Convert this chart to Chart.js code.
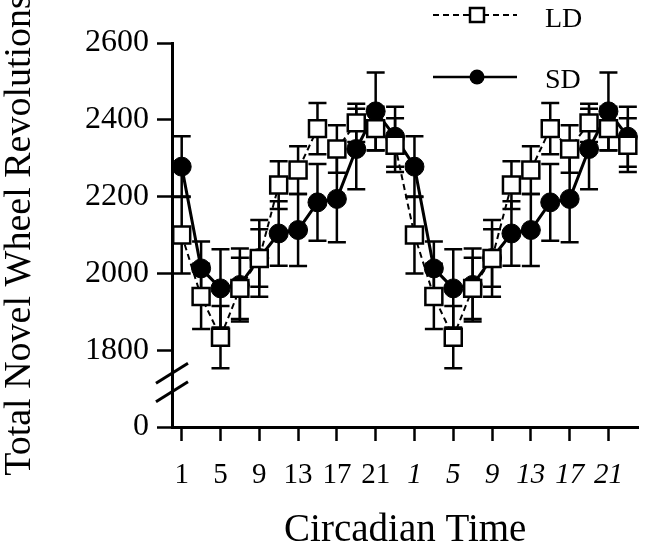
<!DOCTYPE html>
<html>
<head>
<meta charset="utf-8">
<script src="https://cdn.jsdelivr.net/npm/chart.js@4.4.0/dist/chart.umd.min.js"></script>
<style>
  html, body { margin: 0; padding: 0; background: #fff; }
</style>
</head>
<body>
<canvas id="wheelChart" width="653" height="550"></canvas>
<script>
// circadian time of each point (double plotted: 1..23, then 25..47)
const circadianHours = [1, 3, 5, 7, 9, 11, 13, 15, 17, 19, 21, 23,
                        25, 27, 29, 31, 33, 35, 37, 39, 41, 43, 45, 47];
const xTickValues = [1, 5, 9, 13, 17, 21, 25, 29, 33, 37, 41, 45];
const xTickLabels = ['1', '5', '9', '13', '17', '21', '1', '5', '9', '13', '17', '21'];
const yTickValues = [1600, 1800, 2000, 2200, 2400, 2600];
const yTickLabels = ['0', '1800', '2000', '2200', '2400', '2600'];

const ldValues = [2100, 1940, 1834, 1961, 2039, 2230, 2269, 2377, 2324, 2392, 2377, 2334,
                  2100, 1940, 1834, 1961, 2039, 2230, 2269, 2377, 2324, 2392, 2377, 2334];
const ldErrors = [100, 85, 81, 80, 100, 62, 62, 67, 62, 50, 57, 70,
                  100, 85, 81, 80, 100, 62, 62, 67, 62, 50, 57, 70];
const sdValues = [2278, 2013, 1961, 1970, 2040, 2104, 2113, 2185, 2194, 2324, 2422, 2356,
                  2278, 2013, 1961, 1970, 2040, 2104, 2113, 2185, 2194, 2324, 2422, 2356];
const sdErrors = [79, 70, 102, 95, 75, 84, 94, 100, 113, 105, 101, 78,
                  79, 70, 102, 95, 75, 84, 94, 100, 113, 105, 101, 78];

const serif = "'Liberation Serif', 'Times New Roman', serif";

function toPoints(values) {
  return values.map((v, i) => ({ x: circadianHours[i], y: v }));
}

// vertical error bars with caps, under the markers
const errorBars = {
  id: 'errorBars',
  beforeDatasetsDraw(chart) {
    const { ctx, scales: { x, y } } = chart;
    ctx.save();
    ctx.strokeStyle = 'black';
    ctx.lineWidth = 2.5;
    [[ldValues, ldErrors], [sdValues, sdErrors]].forEach(([vals, errs]) => {
      vals.forEach((v, i) => {
        const px = x.getPixelForValue(circadianHours[i]);
        const top = y.getPixelForValue(v + errs[i]);
        const bot = y.getPixelForValue(v - errs[i]);
        ctx.beginPath();
        ctx.moveTo(px, top); ctx.lineTo(px, bot);
        ctx.moveTo(px - 9, top); ctx.lineTo(px + 9, top);
        ctx.moveTo(px - 9, bot); ctx.lineTo(px + 9, bot);
        ctx.stroke();
      });
    });
    ctx.restore();
  }
};

// the two slashes of the broken y axis, plus the hand-made legend
const extras = {
  id: 'extras',
  afterDraw(chart) {
    const { ctx, scales: { y } } = chart;
    const ax = y.right;
    ctx.save();
    ctx.strokeStyle = 'black';
    ctx.lineWidth = 3;
    [1740, 1692].forEach(v => {
      const py = y.getPixelForValue(v);
      ctx.beginPath();
      ctx.moveTo(ax - 16, py + 10);
      ctx.lineTo(ax + 16, py - 10);
      ctx.stroke();
    });

    // legend: LD
    ctx.lineWidth = 2;
    ctx.setLineDash([6, 4]);
    ctx.beginPath();
    ctx.moveTo(433, 15); ctx.lineTo(517, 15);
    ctx.stroke();
    ctx.setLineDash([]);
    ctx.fillStyle = 'white';
    ctx.lineWidth = 2.5;
    ctx.fillRect(470, 8, 14, 14);
    ctx.strokeRect(470, 8, 14, 14);
    // legend: SD
    ctx.beginPath();
    ctx.moveTo(433, 77); ctx.lineTo(517, 77);
    ctx.stroke();
    ctx.fillStyle = 'black';
    ctx.beginPath();
    ctx.arc(477, 77, 7.5, 0, Math.PI * 2);
    ctx.fill();

    ctx.font = '28px ' + serif;
    ctx.textBaseline = 'alphabetic';
    ctx.fillText('LD', 545, 27);
    ctx.fillText('SD', 545, 88);
    ctx.restore();
  }
};

const ctx = document.getElementById('wheelChart').getContext('2d');

new Chart(ctx, {
  type: 'line',
  data: {
    datasets: [
      {
        label: 'LD',
        data: toPoints(ldValues),
        borderColor: 'black',
        borderWidth: 2,
        borderDash: [6, 4],
        pointStyle: 'rect',
        pointRadius: 12,
        pointBackgroundColor: 'white',
        pointBorderColor: 'black',
        pointBorderWidth: 2.5,
        tension: 0,
      },
      {
        label: 'SD',
        data: toPoints(sdValues),
        borderColor: 'black',
        borderWidth: 3,
        pointStyle: 'circle',
        pointRadius: 9.5,
        pointBackgroundColor: 'black',
        pointBorderColor: 'black',
        pointBorderWidth: 1,
        tension: 0,
      },
    ],
  },
  options: {
    responsive: false,
    animation: false,
    devicePixelRatio: 1,
    layout: { padding: { top: 43, right: 0, bottom: 0, left: 0 } },
    plugins: {
      legend: { display: false },
      tooltip: { enabled: false },
    },
    scales: {
      x: {
        type: 'linear',
        min: 0,
        max: 48.1,
        afterBuildTicks: scale => {
          scale.ticks = xTickValues.map(v => ({ value: v }));
        },
        afterFit: scale => { scale.height = 123; },
        ticks: {
          autoSkip: false,
          maxRotation: 0,
          padding: 17,
          color: 'black',
          callback: (value, index) => xTickLabels[index],
          font: c => ({ family: serif, size: 29, style: c.index >= 6 ? 'italic' : 'normal' }),
        },
        grid: {
          drawOnChartArea: false,
          drawTicks: true,
          tickLength: 14,
          tickWidth: 2.5,
          tickColor: 'black',
        },
        border: { display: true, color: 'black', width: 3 },
        title: {
          display: true,
          text: 'Circadian Time',
          color: 'black',
          font: { family: serif, size: 39, lineHeight: 1 },
          padding: { top: 0, bottom: 0 },
        },
      },
      y: {
        min: 1600,
        max: 2600,
        afterBuildTicks: scale => {
          scale.ticks = yTickValues.map(v => ({ value: v }));
        },
        afterFit: scale => { scale.width = 172; },
        ticks: {
          padding: 8,
          color: 'black',
          font: { family: serif, size: 32 },
          callback: (value, index) => yTickLabels[index],
        },
        grid: {
          drawOnChartArea: false,
          drawTicks: true,
          tickLength: 15,
          tickWidth: 2.5,
          tickColor: 'black',
        },
        border: { display: true, color: 'black', width: 3 },
        title: {
          display: true,
          text: 'Total Novel Wheel Revolutions',
          color: 'black',
          font: { family: serif, size: 38, lineHeight: 1 },
          padding: { top: 1, bottom: 0 },
        },
      },
    },
  },
  plugins: [errorBars, extras],
});
</script>
</body>
</html>
